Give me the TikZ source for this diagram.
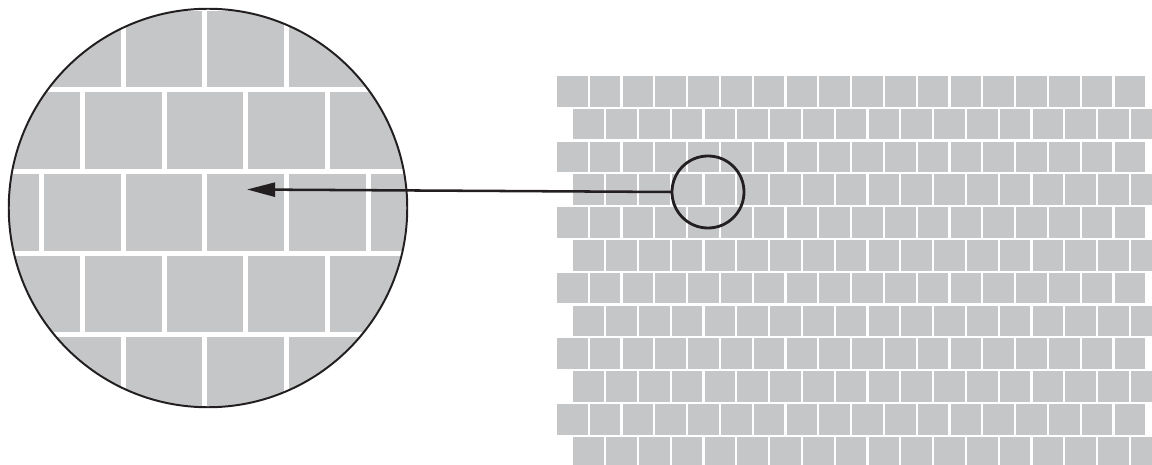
\documentclass[tikz,border=0pt]{standalone}
\usepackage{xcolor}
\definecolor{colBrick}{RGB}{197,198,200}
\definecolor{colInk}{RGB}{35,31,32}
\usepackage{tikz}
\usetikzlibrary{arrows.meta}

\begin{document}
\begin{tikzpicture}[x=0.025cm, y=-0.025cm,
		brick/.style={fill=colBrick},
		lens/.style={circle, draw=colInk, inner sep=0pt, outer sep=0pt},
		pointer/.style={draw=colInk, line width=1.8pt, -{Triangle[length=20pt, width=10pt]}}]
	\useasboundingbox (0,0) rectangle (1152,465);
	\begin{scope}
		\clip (557,70) rectangle (1152,465);
		\foreach \i in {0,...,11} {
			\pgfmathsetmacro{\rowtop}{76+32.8*\i}
			\pgfmathsetmacro{\rowleft}{557+16.4*mod(\i,2)}
			\foreach \j in {0,...,17}
				\fill[brick] ({\rowleft+32.8*\j},\rowtop) rectangle ++(30.6,30.6);
		}
	\end{scope}
	\coordinate (zoomc) at (208,208);
	\begin{scope}
		\clip (zoomc) circle[radius=199];
		\foreach \k in {0,...,4} {
			\pgfmathsetmacro{\ztop}{10.7+81.7*\k}
			\pgfmathsetmacro{\zleft}{207.4-40.85*mod(\k,2)}
			\foreach \j in {-3,...,3}
				\fill[brick] ({\zleft+81.7*\j},\ztop) rectangle ++(76.7,76.7);
		}
	\end{scope}
	\node[lens, line width=1.4pt, minimum size=9.96cm] (zoom) at (zoomc) {};
	\node[lens, line width=2pt, minimum size=1.8cm] (spot) at (708,192) {};
	\coordinate (target) at (247,189.5);
	\draw[pointer] (spot.west) -- (target);
\end{tikzpicture}
\end{document}
